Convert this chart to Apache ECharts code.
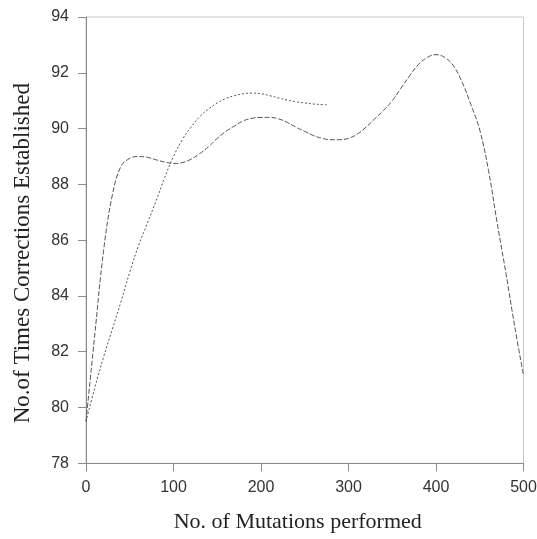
<!DOCTYPE html>
<html>
<head>
<meta charset="utf-8">
<script src="https://cdn.jsdelivr.net/npm/echarts@6/dist/echarts.min.js"></script>
<style>html,body{margin:0;padding:0;background:#fff}#c{width:537px;height:539px}</style>
</head>
<body>
<div id="c"></div>
<script>
const xTicks = [0, 100, 200, 300, 400, 500];
const yTicks = [78, 80, 82, 84, 86, 88, 90, 92, 94];

const seriesAX = [0,10,20,30,40,50,60,70,80,90,100,110,120,130,140,150,160,170,180,190,200,210,220,230,240,250,260,270,280,290,300,310,320,330,340,350,360,370,380,390,400,410,420,430,440,450,460,470,480,490,500];
const seriesAY = [79.5,82.6,85.6,87.6,88.65,88.93,89.0,88.97,88.88,88.8,88.75,88.78,88.9,89.1,89.35,89.65,89.9,90.1,90.28,90.37,90.4,90.4,90.35,90.22,90.05,89.9,89.75,89.65,89.6,89.6,89.65,89.8,90.05,90.35,90.65,91.0,91.45,91.9,92.3,92.55,92.65,92.55,92.25,91.65,90.85,89.95,88.5,86.6,84.8,82.9,81.15];

const seriesBX = [0,10,20,30,40,50,60,70,80,90,100,110,120,130,140,150,160,170,180,190,200,210,220,230,240,250,260,270,275];
const seriesBY = [79.5,80.7,81.8,82.8,83.8,84.85,85.8,86.6,87.4,88.25,89.0,89.6,90.05,90.43,90.7,90.92,91.08,91.18,91.25,91.27,91.25,91.18,91.1,91.02,90.96,90.92,90.88,90.86,90.85];

const pairs = (xs, ys) => xs.map((x, i) => [x, ys[i]]);

const chart = echarts.init(document.getElementById('c'), null, {renderer: 'canvas'});
chart.setOption({
  animation: false,
  backgroundColor: '#fff',
  grid: {left: 86, top: 17, right: 13.5, bottom: 75.7, show: true, borderColor: '#c8c8c8', borderWidth: 1,
    containLabel: false, outerBoundsMode: 'none'},
  xAxis: {
    type: 'value', min: 0, max: 500, interval: 100,
    name: 'No. of Mutations performed', nameLocation: 'middle', nameGap: 48,
    nameTextStyle: {fontFamily: 'Liberation Serif', fontSize: 22, color: '#222', padding: [0, 14, 0, 0]},
    axisLine: {show: true, lineStyle: {color: '#8a8a8a', width: 1}},
    axisTick: {show: true, inside: false, length: 8, lineStyle: {color: '#8a8a8a'}},
    axisLabel: {margin: 16, fontFamily: 'Liberation Sans', fontSize: 16, color: '#333',
      formatter: v => xTicks.includes(v) ? String(v) : ''},
    splitLine: {show: false}
  },
  yAxis: {
    type: 'value', min: 78, max: 94, interval: 2,
    name: 'No.of Times Corrections Established', nameLocation: 'middle', nameGap: 52,
    nameTextStyle: {fontFamily: 'Liberation Serif', fontSize: 23, color: '#222', padding: [0, 26, 0, 0]},
    axisLine: {show: true, lineStyle: {color: '#8a8a8a', width: 1}},
    axisTick: {show: true, inside: false, length: 8, lineStyle: {color: '#8a8a8a'}},
    axisLabel: {margin: 17, fontFamily: 'Liberation Sans', fontSize: 16, color: '#333',
      formatter: v => yTicks.includes(v) ? String(v) : ''},
    splitLine: {show: false}
  },
  series: [
    {type: 'line', data: pairs(seriesAX, seriesAY), smooth: 0.4, showSymbol: false,
      lineStyle: {color: '#555', width: 1, type: [5, 2]}},
    {type: 'line', data: pairs(seriesBX, seriesBY), smooth: 0.4, showSymbol: false,
      lineStyle: {color: '#555', width: 1, type: [2, 2]}}
  ]
});
</script>
</body>
</html>
